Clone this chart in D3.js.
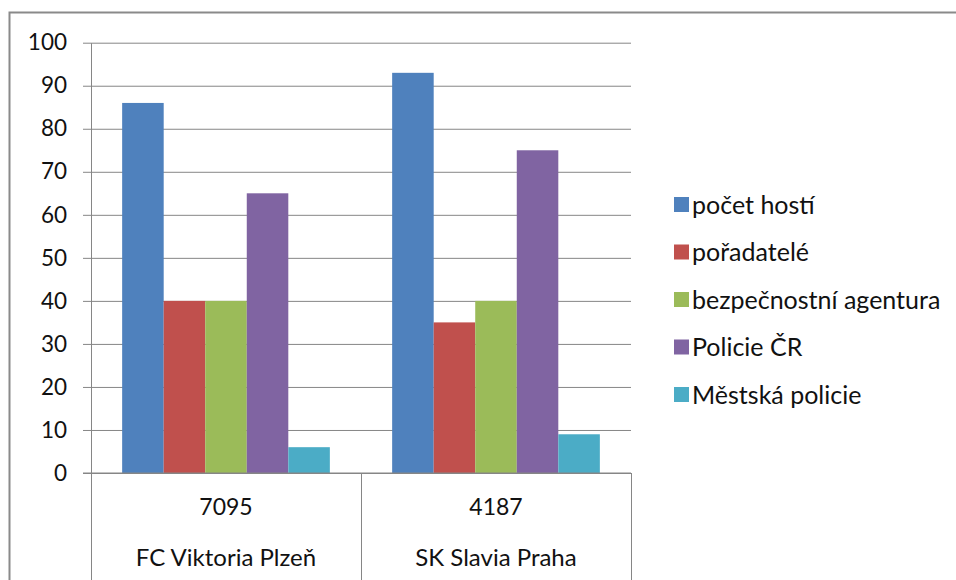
<!DOCTYPE html>
<html>
<head>
<meta charset="utf-8">
<script src="https://cdn.jsdelivr.net/npm/d3@7"></script>
<style>
  body { margin: 0; background: #fff; }
  text { font-family: Lato, "Open Sans", sans-serif; fill: #111; }
</style>
</head>
<body>
<svg class="chart" width="956" height="580"></svg>
<script>
// chart data
var clubs = ["FC Viktoria Plzeň", "SK Slavia Praha"];
var guestCounts = ["7095", "4187"];
var seriesNames = ["počet hostí", "pořadatelé", "bezpečnostní agentura", "Policie ČR", "Městská policie"];
var seriesColors = ["#4F81BD", "#C0504D", "#9BBB59", "#8064A2", "#4BACC6"];
var valuesPlzen = [86, 40, 40, 65, 6];
var valuesSlavia = [93, 35, 40, 75, 9];
var yTicks = [0, 10, 20, 30, 40, 50, 60, 70, 80, 90, 100];

var rows = [valuesPlzen, valuesSlavia];

var plot = {left: 91, right: 631, top: 42.7, bottom: 473};

var svg = d3.select(".chart");

// outer frame (only top and left visible)
svg.append("path")
    .attr("d", "M9.5,600V12.5H960")
    .attr("fill", "none")
    .attr("stroke", "#8a8a8a")
    .attr("stroke-width", 2);

var x0 = d3.scaleBand()
    .domain(clubs)
    .range([plot.left, plot.right])
    .paddingInner(0)
    .paddingOuter(0);

var x1 = d3.scaleBand()
    .domain(seriesNames)
    .range([0, x0.bandwidth()])
    .paddingInner(0)
    .paddingOuter(0.75);

var y = d3.scaleLinear()
    .domain([0, 100])
    .range([plot.bottom, plot.top]);

// y axis with gridlines
var yAxis = d3.axisLeft(y)
    .tickValues(yTicks)
    .tickSizeOuter(0)
    .tickPadding(18);

var gy = svg.append("g")
    .attr("class", "yaxis")
    .attr("transform", "translate(" + plot.left + ",0)")
    .call(yAxis);

gy.select(".domain")
    .attr("stroke", "#868686");
gy.selectAll(".tick line")
    .attr("x1", -8)
    .attr("x2", plot.right - plot.left)
    .attr("stroke", "#868686");
gy.selectAll(".tick text")
    .attr("dy", "0.32em")
    .style("font-size", "22.5px");

// bars
var groups = svg.selectAll(".club")
    .data(clubs)
  .enter().append("g")
    .attr("class", "club")
    .attr("transform", function(d) { return "translate(" + x0(d) + ",0)"; });

groups.selectAll("rect")
    .data(function(d, i) {
      return rows[i].map(function(v, j) { return {name: seriesNames[j], value: v, color: seriesColors[j]}; });
    })
  .enter().append("rect")
    .attr("x", function(d) { return x1(d.name); })
    .attr("width", x1.bandwidth())
    .attr("y", function(d) { return y(d.value); })
    .attr("height", function(d) { return y(0) - y(d.value); })
    .attr("fill", function(d) { return d.color; });

// category axis (two levels)
svg.append("line")
    .attr("x1", plot.left - 8)
    .attr("x2", plot.right)
    .attr("y1", plot.bottom)
    .attr("y2", plot.bottom)
    .attr("stroke", "#868686");

var seps = clubs.map(function(c) { return x0(c); }).concat([plot.right]);
svg.selectAll(".sep")
    .data(seps)
  .enter().append("line")
    .attr("class", "sep")
    .attr("x1", function(d) { return Math.round(d) + 0.5; })
    .attr("x2", function(d) { return Math.round(d) + 0.5; })
    .attr("y1", plot.bottom)
    .attr("y2", 600)
    .attr("stroke", "#868686");

svg.selectAll(".count")
    .data(clubs)
  .enter().append("text")
    .attr("class", "count")
    .attr("x", function(d) { return x0(d) + x0.bandwidth() / 2; })
    .attr("y", 515)
    .attr("text-anchor", "middle")
    .style("font-size", "23px")
    .text(function(d, i) { return guestCounts[i]; });

svg.selectAll(".clubname")
    .data(clubs)
  .enter().append("text")
    .attr("class", "clubname")
    .attr("x", function(d) { return x0(d) + x0.bandwidth() / 2; })
    .attr("y", 566)
    .attr("text-anchor", "middle")
    .style("font-size", "24px")
    .text(function(d) { return d; });

// legend
var legend = svg.selectAll(".legend")
    .data(seriesNames)
  .enter().append("g")
    .attr("class", "legend")
    .attr("transform", function(d, i) { return "translate(674," + (205 + i * 47.5) + ")"; });

legend.append("rect")
    .attr("x", 0)
    .attr("y", -8)
    .attr("width", 15)
    .attr("height", 15)
    .attr("fill", function(d, i) { return seriesColors[i]; });

legend.append("text")
    .attr("x", 18)
    .attr("y", 0)
    .attr("dy", "0.35em")
    .style("font-size", "25px")
    .text(function(d) { return d; });
</script>
</body>
</html>
